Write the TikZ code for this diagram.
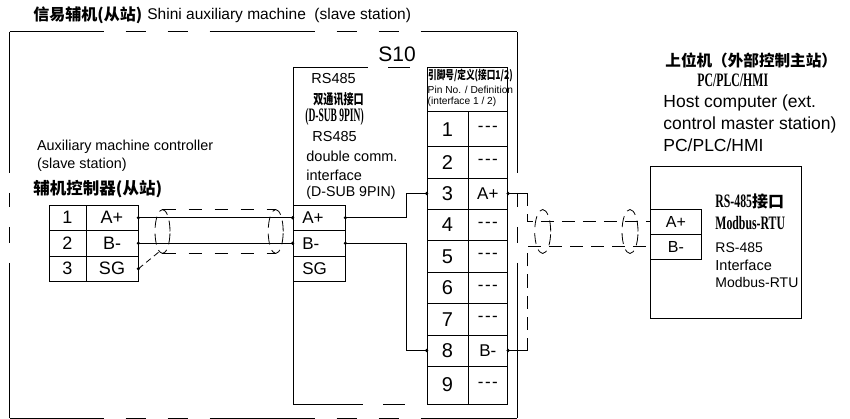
\documentclass[tikz,border=0pt]{standalone}
\usepackage{fontspec}
\setmainfont{Liberation Sans}
\newfontfamily\cjk{Noto Sans CJK SC}
\newfontfamily\cjkn{Noto Sans CJK SC}[FakeStretch=0.72]
\newfontfamily\bsfa{Liberation Serif}[FakeStretch=0.5]
\newfontfamily\bsfb{Liberation Serif}[FakeStretch=0.62]
\newcommand\fsz[1]{\fontsize{#1}{#1}\selectfont}
\newcommand\nodef{-\kern1.5pt-\kern1.5pt-}
\begin{document}
\begin{tikzpicture}[x=1pt,y=-1pt, line width=0.8pt,
  lbl/.style={anchor=west, inner sep=0pt},
  cell/.style={draw, inner sep=0pt},
  wired/.style={dash pattern=on 13pt off 8pt},
  shield/.style={dash pattern=on 13pt off 13pt},
  shieldend/.style={dash pattern=on 11pt off 6pt},
  phantom/.style={line width=1pt},
  dot/.style={fill=black}]
\useasboundingbox (0,0) rectangle (850,419);

% ---------- titles ----------
\node[lbl] (ttlcn) at (33,15.5) {\cjk\bfseries\fsz{16}信易辅机(从站)};
\node[lbl] (ttlen) at (147,15.5) {\fsz{15.5}Shini auxiliary machine\ \ (slave station)};

% ---------- outer phantom box ----------
\draw[phantom, dash pattern=on 94pt off 22pt on 20pt off 22pt on 20pt off 22pt on 105pt off 22pt on 20pt off 22pt on 20pt off 22pt on 200pt]
  (9.5,32) -- (517,32);
\draw[phantom, dash pattern=on 94pt off 22pt on 20pt off 22pt on 20pt off 22pt on 105pt off 22pt on 20pt off 22pt on 20pt off 22pt on 200pt]
  (9.5,418) -- (517,418);
\draw[phantom, dash pattern=on 141pt off 20pt on 14pt off 20pt on 16pt off 20pt on 300pt]
  (9.5,32) -- (9.5,418);
\draw[phantom, dash pattern=on 141pt off 20pt on 14pt off 20pt on 16pt off 20pt on 300pt]
  (517,32) -- (517,418);

% ---------- auxiliary controller ----------
\node[lbl] (auxen1) at (36.7,146.7) {\fsz{14.4}Auxiliary machine controller};
\node[lbl] (auxen2) at (36.7,165) {\fsz{14.4}(slave station)};
\node[lbl] (auxcn) at (33,189.5) {\cjk\bfseries\fsz{16.5}辅机控制器(从站)};

\node[cell, minimum width=37pt, minimum height=25.5pt, font=\fsz{18}] (la1) at (67.5,217.75) {1};
\node[cell, minimum width=52pt, minimum height=25.5pt, font=\fsz{18}] (la2) at (112,217.75) {A+};
\node[cell, minimum width=37pt, minimum height=25.5pt, font=\fsz{18}] (lb1) at (67.5,243.25) {2};
\node[cell, minimum width=52pt, minimum height=25.5pt, font=\fsz{18}] (lb2) at (112,243.25) {B-};
\node[cell, minimum width=37pt, minimum height=25.5pt, font=\fsz{18}] (lc1) at (67.5,268.75) {3};
\node[cell, minimum width=52pt, minimum height=25.5pt, font=\fsz{18}] (lc2) at (112,268.75) {SG};

% ---------- S10 ----------
\node[inner sep=0pt] (s10) at (397,54.5) {\fsz{21}S10};
\draw (293,67) -- (293,404);
\draw[dash pattern=on 75pt off 20pt on 22pt off 300pt] (293,67) -- (427,67);
\draw[dash pattern=on 70pt off 20pt on 22pt off 300pt] (293,404) -- (427,404);

\node[lbl] (ifa) at (311,79) {\fsz{14.5}RS485};
\node[lbl] (ifb) at (313,99) {\cjkn\bfseries\fsz{14}双通讯接口};
\node[lbl] (ifc) at (305,117) {\bsfa\bfseries\fsz{19}(D-SUB 9PIN)};
\node[lbl] (ifd) at (312,137) {\fsz{14.5}RS485};
\node[lbl] (ife) at (306,156.7) {\fsz{14.5}double comm.};
\node[lbl] (iff) at (306,175) {\fsz{14.5}interface};
\node[lbl] (ifg) at (306,193) {\fsz{14.2}(D-SUB 9PIN)};

\node[cell, minimum width=52pt, minimum height=25.5pt] (sa) at (319,217.75) {};
\node[cell, minimum width=52pt, minimum height=25.5pt] (sb) at (319,243.25) {};
\node[cell, minimum width=52pt, minimum height=25.5pt] (sc) at (319,268.75) {};
\node[lbl] (sat) at (302,217.75) {\fsz{17}A+};
\node[lbl] (sbt) at (302,243.25) {\fsz{17}B-};
\node[lbl] (sct) at (302,268.75) {\fsz{17}SG};

% ---------- pin table ----------
\node[cell, minimum width=80.7pt, minimum height=44pt] (thead) at (467.35,89.7) {};
\node[lbl] (th1) at (427.8,75.5) {\cjkn\bfseries\fsz{12}引脚号/定义(接口1/2)};
\node[lbl] (th2) at (427.3,90) {\fsz{10.2}Pin No. / Definition};
\node[lbl] (th3) at (427.3,101.7) {\fsz{10.2}(interface 1 / 2)};
\foreach \n/\c/\h/\d in {1/129.2/35/\nodef, 2/162.35/31.3/\nodef, 3/193.5/31/A+,
  4/224.85/31.7/\nodef, 5/256.35/31.3/\nodef, 6/287.65/31.3/\nodef,
  7/319.15/31.7/\nodef, 8/350.5/31/B-, 9/385/38/\nodef}{
  \node[cell, minimum width=41pt, minimum height=\h pt, font=\fsz{20}] (pin\n) at (447.5,\c) {\n};
  \node[cell, minimum width=39.7pt, minimum height=\h pt, font=\fsz{17}] (def\n) at (487.85,\c) {\d};
}

% ---------- host ----------
\node[lbl] (hocn) at (665,60) {\cjk\bfseries\fsz{15.6}上位机（外部控制主站）};
\node[lbl] (hopc) at (697,80) {\bsfb\bfseries\fsz{19}PC/PLC/HMI};
\node[lbl] (hoe1) at (663,103.3) {\fsz{17.5}Host computer (ext.};
\node[lbl] (hoe2) at (663,125) {\fsz{17.5}control master station)};
\node[lbl] (hoe3) at (663,145) {\fsz{17.5}PC/PLC/HMI};

\node[cell, minimum width=151.7pt, minimum height=151.6pt] (host) at (725.85,242.5) {};
\node[cell, minimum width=51.7pt, minimum height=25pt, font=\fsz{16}] (ha) at (675.85,221.8) {A+};
\node[cell, minimum width=51.7pt, minimum height=25pt, font=\fsz{16}] (hb) at (675.85,246.8) {B-};
\node[lbl] (hi1) at (715,201.7) {\bsfb\bfseries\fsz{19}RS-485\cjk\fsz{16}接口};
\node[lbl] (hi2) at (715,223.3) {\bsfb\bfseries\fsz{19}Modbus-RTU};
\node[lbl] (hi3) at (715,247.3) {\fsz{14}RS-485};
\node[lbl] (hi4) at (715,265) {\fsz{14.5}Interface};
\node[lbl] (hi5) at (715,282.7) {\fsz{14}Modbus-RTU};

% ---------- left cable ----------
\draw (la2.east) -- (sa.west);
\draw (lb2.east) -- (sb.west);
\coordinate (shl1) at (162.5,231.5);
\coordinate (shl2) at (275.7,231.5);
\draw[shieldend] (shl1) ellipse [x radius=7.5pt, y radius=22pt];
\draw[shieldend] (shl2) ellipse [x radius=7.5pt, y radius=22pt];
\draw[shield] ([yshift=22pt]shl1) -- ([yshift=22pt]shl2);
\draw[shield] ([yshift=-22pt]shl1) -- ([yshift=-22pt]shl2);
\draw[dash pattern=on 6pt off 4pt] (lc2.east) -- ([xshift=-3pt,yshift=-20pt]shl1);

% ---------- S10 internal wiring ----------
\draw (sa.east) -- ++(61,0) |- (pin3.west);
\draw (sb.east) -- ++(61,0) |- (pin8.west);

% ---------- right cable ----------
\draw (def3.east) -- ++(19,0) coordinate (ra);
\draw (def8.east) -- ++(19,0) coordinate (rb);
\draw[wired] (ra) |- (ha.west);
\draw[wired] (rb) |- (hb.west);
\coordinate (shr1) at (542.7,231.5);
\coordinate (shr2) at (630,231.5);
\draw[shieldend] (shr1) ellipse [x radius=8pt, y radius=22pt];
\draw[shieldend] (shr2) ellipse [x radius=8pt, y radius=22pt];

% ---------- dots ----------
\foreach \p in {la2.east, lb2.east, lc2.east, sa.west, sb.west, sa.east, sb.east,
  pin3.west, pin8.west, def3.east, def8.east}
  \fill (\p) circle [radius=1.8pt];
\end{tikzpicture}
\end{document}
